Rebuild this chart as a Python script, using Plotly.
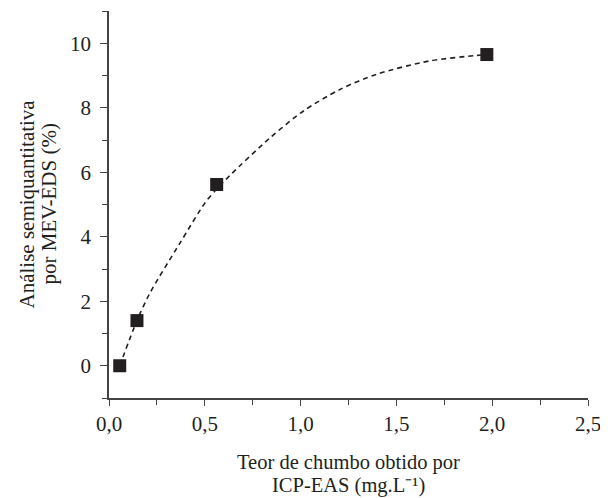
import plotly.graph_objects as go

# measured points
x_icp = [0.056, 0.146, 0.562, 1.972]
y_mev = [0.0, 1.40, 5.62, 9.65]

# dashed trend curve
x_curve = [0.056, 0.146, 0.214, 0.371, 0.501, 0.562, 0.636, 0.841, 1.015, 1.206, 1.398, 1.671, 1.915, 1.972]
y_curve = [0.0, 1.40, 2.26, 3.81, 5.05, 5.48, 5.93, 7.07, 7.90, 8.57, 9.04, 9.45, 9.62, 9.65]

x_ticks = [0.0, 0.5, 1.0, 1.5, 2.0, 2.5]
y_ticks = [0, 2, 4, 6, 8, 10]

x_title = ["Teor de chumbo obtido por", "ICP-EAS (mg.L⁻¹)"]
y_title = ["Análise semiquantitativa", "por MEV-EDS (%)"]

font = "Liberation Serif, Times New Roman, serif"
ink = "#231f20"
axcol = "#444444"

fig = go.Figure()
fig.add_trace(go.Scatter(x=x_curve, y=y_curve, mode="lines",
                         line=dict(color=ink, width=1.6, dash="5px,4px", shape="spline", smoothing=0.8),
                         hoverinfo="skip", showlegend=False))
fig.add_trace(go.Scatter(x=x_icp, y=y_mev, mode="markers",
                         marker=dict(symbol="square", size=13, color=ink),
                         showlegend=False))

# the page body adds an 8px margin, so the figure is 8px smaller in each direction
fig.update_layout(
    width=600, height=490,
    margin=dict(l=101, r=20, t=3, b=100),
    paper_bgcolor="white", plot_bgcolor="white",
    separators=",.",
    font=dict(family=font, size=21, color=ink),
)
fig.update_xaxes(
    range=[0, 2.5], tickvals=x_ticks, tickformat=".1f", automargin=False,
    showline=True, linecolor=axcol, linewidth=1.5, showgrid=False, zeroline=False,
    ticks="outside", ticklen=6, tickcolor=axcol, tickwidth=1.3,
    minor=dict(dtick=0.25, ticks="outside", ticklen=5, tickcolor=axcol, tickwidth=1.3),
    tickfont=dict(size=21, color=ink),
)
fig.update_yaxes(
    range=[-1, 11], tickvals=y_ticks, automargin=False,
    showline=True, linecolor=axcol, linewidth=1.5, showgrid=False, zeroline=False,
    ticks="outside", ticklen=7, tickcolor=axcol, tickwidth=1.3,
    minor=dict(dtick=1, ticks="outside", ticklen=5, tickcolor=axcol, tickwidth=1.3),
    tickfont=dict(size=21, color=ink),
    ticklabelstandoff=5,
)

for txt, ys in zip(x_title, [-64, -87]):
    fig.add_annotation(text=txt, xref="paper", yref="paper", x=0.5, y=0,
                       xanchor="center", yanchor="middle", yshift=ys, showarrow=False,
                       borderpad=0, font=dict(size=20.5, color=ink, family=font))
for txt, xs in zip(y_title, [-83, -61]):
    fig.add_annotation(text=txt, xref="paper", yref="paper", x=0, y=0.5,
                       xanchor="center", yanchor="middle", xshift=xs, textangle=-90,
                       borderpad=0, showarrow=False, font=dict(size=21, color=ink, family=font))

fig.write_html("out.html")
